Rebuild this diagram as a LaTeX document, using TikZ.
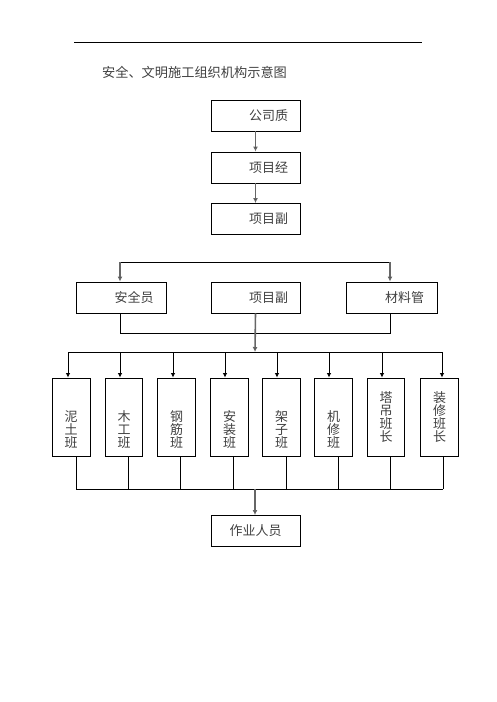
\documentclass[tikz,border=0pt]{standalone}
\usepackage{fontspec}
\setmainfont{Liberation Serif}
\newfontfamily\cjk{Noto Sans CJK SC}
\usetikzlibrary{arrows.meta}
\definecolor{txtgray}{gray}{0.25}
\definecolor{arrgray}{gray}{0.4}
\begin{document}
\begin{tikzpicture}[x=1pt,y=-1pt,
  hbox/.style={draw,line width=0.9pt,minimum width=89pt,minimum height=31pt,inner sep=0pt,
    text width=65pt,align=right,font=\cjk\fontsize{13}{13}\selectfont,text=txtgray},
  vbox/.style={draw,line width=0.9pt,minimum width=37.5pt,minimum height=78pt,inner sep=0pt},
  vtext/.style={align=center,inner sep=0pt,font=\cjk\fontsize{13}{13}\selectfont,text=txtgray},
  bigarr/.style={draw=arrgray,line width=1.6pt,-{Latex[length=5pt,width=5pt,fill=black]}},
  smallarr/.style={draw=black,line width=0.8pt,-{Latex[length=4.5pt,width=4.5pt]}},
  ln/.style={draw=black,line width=0.9pt}]
\useasboundingbox (0,0) rectangle (496,702);
% header line
\coordinate (hl) at (74,42);
\coordinate (hr) at (422,42);
\draw[line width=0.8pt] (hl) -- (hr);
% title
\node[font=\cjk\fontsize{13.2}{13.2}\selectfont,text=txtgray,inner sep=0pt] (title) at (194.5,72) {安全、文明施工组织机构示意图};
% top chain
\node[hbox] (n1) at (255.5,115.5) {公司质};
\node[hbox] (n2) at (255.5,167.5) {项目经};
\node[hbox] (n3) at (255.5,219) {项目副};
\draw[bigarr] (n1) -- (n2);
\draw[bigarr] (n2) -- (n3);
% second row
\node[hbox,minimum width=90pt] (s1) at (121,297.5) {安全员};
\node[hbox] (s2) at (255.5,297.5) {项目副};
\node[hbox,minimum width=91pt] (s3) at (391.5,297.5) {材料管};
\coordinate (tl) at (120,262);
\coordinate (tr) at (390,262);
\draw[ln] (tl) -- (tr);
\draw[bigarr] (tl) -- (tl |- s1.north);
\draw[bigarr] (tr) -- (tr |- s3.north);
\coordinate (bl) at (120,333);
\coordinate (br) at (390,333);
\draw[ln] (bl |- s1.south) -- (bl) -- (br) -- (br |- s3.south);
\coordinate (hbar) at (255,352);
\draw[bigarr] (s2.south) -- (hbar);
% third row boxes
\node[vbox] (b1) at (71.5,417) {};
\node[vbox] (b2) at (124,417) {};
\node[vbox] (b3) at (176.5,417) {};
\node[vbox] (b4) at (229.5,417) {};
\node[vbox] (b5) at (281.5,417) {};
\node[vbox] (b6) at (333.5,417) {};
\node[vbox] (b7) at (386,417) {};
\node[vbox] (b8) at (439.5,417) {};
\node[vtext] (t1) at (71,430) {泥\\土\\班};
\node[vtext] (t2) at (124,430) {木\\工\\班};
\node[vtext] (t3) at (176.5,430) {钢\\筋\\班};
\node[vtext] (t4) at (229.5,430) {安\\装\\班};
\node[vtext] (t5) at (281.5,430) {架\\子\\班};
\node[vtext] (t6) at (333.5,430) {机\\修\\班};
\node[vtext] (t7) at (386,417) {塔\\吊\\班\\长};
\node[vtext] (t8) at (439.5,417) {装\\修\\班\\长};
% distribution bar
\coordinate (dl) at (68,352);
\coordinate (dr) at (442,352);
\draw[ln] (dl) -- (dr);
\foreach \b/\x in {b1/68,b2/120,b3/173,b4/225,b5/277,b6/329,b7/382,b8/442}
  \draw[smallarr] (\x,352) -- (\x,0 |- \b.north);
% collection bar
\coordinate (cl) at (76,489);
\coordinate (cr) at (443,489);
\draw[ln] (cl) -- (cr);
\foreach \b/\x in {b1/76,b2/128,b3/180,b4/233,b5/286,b6/338,b7/390,b8/443}
  \draw[ln] (\x,0 |- \b.south) -- (\x,489);
% workers
\node[hbox,align=center,text width=80pt] (w) at (255.5,531) {作业人员};
\coordinate (cm) at (255,489);
\draw[bigarr] (cm) -- (cm |- w.north);
\end{tikzpicture}
\end{document}
